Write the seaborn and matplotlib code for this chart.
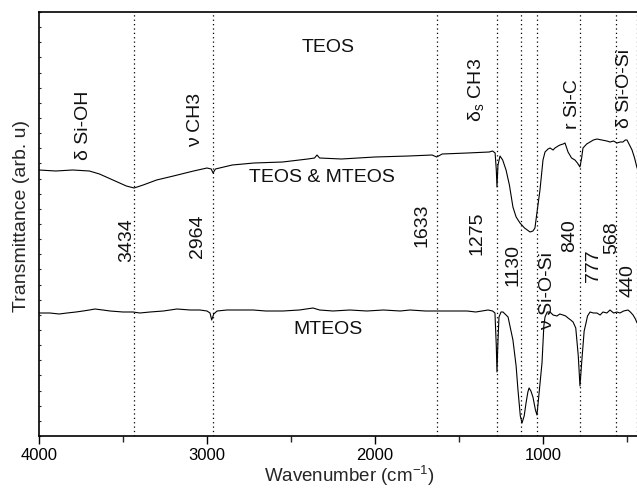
import numpy as np
import pandas as pd
import matplotlib
matplotlib.use('Agg')
import matplotlib.pyplot as plt
import seaborn as sns
from matplotlib.ticker import FixedLocator

# TEOS & MTEOS spectrum (wavenumber, transmittance in arb. units)
teos_mteos_wn = [4000, 3900, 3800, 3700, 3640, 3560, 3480, 3434, 3380, 3300, 3200, 3080,
                 3000, 2975, 2964, 2950, 2850, 2720, 2550, 2400, 2360, 2345, 2330, 2200,
                 2000, 1800, 1660, 1633, 1600, 1450, 1320, 1300, 1285, 1278, 1274, 1268,
                 1256, 1240, 1220, 1200, 1179, 1160, 1137, 1110, 1077, 1060, 1048, 1030,
                 1018, 1000, 988, 970, 958, 940, 929, 910, 899, 880, 869, 851, 830, 810,
                 795, 780, 770, 762, 740, 720, 700, 679, 650, 620, 601, 580, 560, 540,
                 524, 510, 500, 485, 470, 455, 440]
teos_mteos_t = [266, 265, 266, 265, 262, 256, 250, 248, 251, 256, 260, 265,
                268, 267, 263, 267, 271, 273, 274, 277, 278, 281, 278, 277,
                279, 280, 281, 279, 282, 283, 284, 285, 283, 266, 249, 271,
                280, 276, 266, 251, 229, 219, 213, 208, 204, 205, 208, 231,
                246, 276, 284, 287, 288, 286, 288, 290, 291, 292, 293, 284, 278, 276,
                273, 269, 278, 288, 292, 294, 296, 297, 296, 295, 294, 295, 293, 294,
                294, 296, 296, 291, 286, 278, 268]

# MTEOS spectrum
mteos_wn = [4000, 3935, 3880, 3833, 3780, 3738, 3700, 3667, 3620, 3577, 3500, 3440,
            3400, 3339, 3260, 3179, 3100, 3042, 3000, 2982, 2972, 2960, 2940, 2881,
            2800, 2726, 2650, 2548, 2450, 2369, 2330, 2250, 2150, 2048, 1950, 1850,
            1792, 1700, 1655, 1550, 1452, 1400, 1327, 1300, 1286, 1278, 1274, 1268,
            1262, 1250, 1238, 1220, 1208, 1179, 1160, 1149, 1135, 1125, 1112, 1101,
            1090, 1083, 1072, 1060, 1045, 1036, 1025, 1006, 995, 988, 975, 958, 940,
            917, 900, 881, 865, 851, 835, 821, 805, 790, 780, 770, 755, 744, 735,
            720, 700, 679, 660, 643, 620, 601, 580, 560, 542, 520, 494, 480, 464,
            450, 440]
mteos_t = [123, 123, 122, 123, 124, 125, 126, 127, 126, 125, 124, 124,
           123, 124, 125, 127, 126, 126, 125, 123, 116, 122, 125, 126,
           126, 126, 125, 125, 126, 128, 126, 125, 126, 125, 126, 125,
           126, 125, 125, 125, 125, 124, 126, 125, 123, 90, 64, 95,
           119, 124, 124, 121, 119, 96, 70, 46, 20, 13, 20, 33,
           44, 48, 45, 39, 26, 21, 40, 73, 110, 119, 124, 124, 121,
           120, 122, 121, 120, 118, 116, 114, 108, 80, 50, 73, 105, 113, 120,
           124, 123, 123, 121, 124, 123, 126, 123, 124, 123, 125, 126, 124, 121,
           117, 113]

# marked band positions
band_lines = [3434, 2964, 1633, 1275, 1130, 1035, 777, 568, 440]

# annotations: text, wavenumber, height, rotation
ann_text = ['δ Si-OH', 'ν CH3', 'TEOS', 'TEOS & MTEOS', '3434', '2964', '1633', '1275',
            r'δ$_\mathregular{s}$ CH3', '1130', 'ν Si-O-Si', '840', 'r Si-C', '777', '568',
            'δ Si-O-Si', '440', 'MTEOS']
ann_x = [3738, 3071, 2280, 2315, 3476, 3054, 1720, 1393,
         1393, 1179, 970, 839, 827, 702, 589,
         512, 494, 2280]
ann_y = [311, 316, 388, 258, 196, 200, 211, 203,
         346, 171, 145, 200, 332, 170, 198,
         348, 155, 106]
ann_rot = [90, 90, 0, 0, 90, 90, 90, 90,
           90, 90, 90, 90, 90, 90, 90,
           90, 90, 0]

sns.set_theme(style='white')
plt.rcParams['font.family'] = ['Liberation Sans', 'DejaVu Sans']
plt.rcParams['mathtext.fontset'] = 'custom'
plt.rcParams['mathtext.rm'] = 'Liberation Sans'
plt.rcParams['axes.unicode_minus'] = False

df1 = pd.DataFrame({'wn': teos_mteos_wn, 't': teos_mteos_t})
df2 = pd.DataFrame({'wn': mteos_wn, 't': mteos_t})

fig = plt.figure(figsize=(6.37, 4.91), dpi=100)
ax = fig.add_axes([39 / 637, 55 / 491, 621.6 / 637, 424 / 491])

for x in band_lines:
    ax.axvline(x, color='black', lw=0.9, ls=(0, (1, 2.5)), zorder=1)

sns.lineplot(data=df1, x='wn', y='t', sort=False, estimator=None, color='black', lw=0.8, ax=ax)
sns.lineplot(data=df2, x='wn', y='t', sort=False, estimator=None, color='black', lw=0.8, ax=ax)

for txt, x, y, r in zip(ann_text, ann_x, ann_y, ann_rot):
    ax.text(x, y, txt, rotation=r, ha='center', va='center', fontsize=14, color='#111111')

ax.set_xlim(4000, 300)
ax.set_ylim(0, 424)
ax.xaxis.set_major_locator(FixedLocator([4000, 3000, 2000, 1000]))
ax.xaxis.set_minor_locator(FixedLocator([3500, 2500, 1500, 500]))
ax.yaxis.set_major_locator(FixedLocator(np.linspace(0, 424, 29)))
ax.set_yticklabels([])
ax.tick_params(axis='x', which='major', direction='out', length=6, width=1, labelsize=12,
               colors='black', bottom=True, top=False, pad=3)
ax.tick_params(axis='x', which='minor', direction='out', length=4, width=1, bottom=True, top=False)
ax.tick_params(axis='y', which='major', direction='in', length=1.5, width=0.8, left=True)
for s in ax.spines.values():
    s.set_color('black')
    s.set_linewidth(1.2)

ax.set_xlabel(r'Wavenumber (cm$^{\mathregular{-1}}$)', fontsize=13.5, labelpad=0)
ax.set_ylabel('Transmittance (arb. u)', fontsize=14)
ax.yaxis.set_label_coords(-0.015, 0.52)

fig.savefig('out.png', dpi=100)
